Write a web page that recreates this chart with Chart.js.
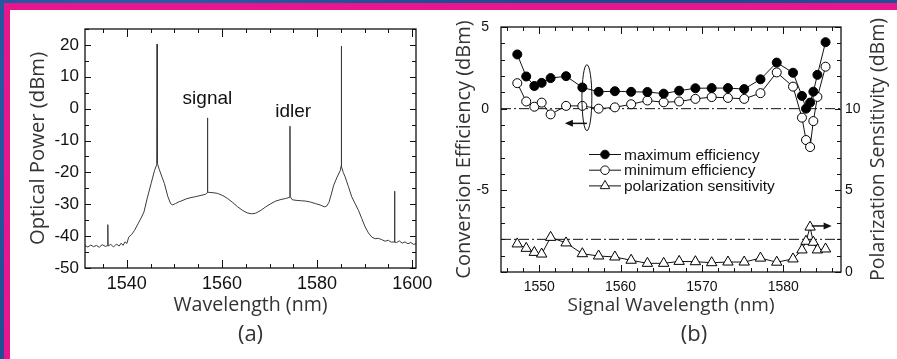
<!DOCTYPE html>
<html><head><meta charset="utf-8">
<script src="https://cdn.jsdelivr.net/npm/chart.js@4.4.1/dist/chart.umd.min.js"></script>
<style>
html,body{margin:0;padding:0;}
body{width:897px;height:359px;position:relative;overflow:hidden;
 background:radial-gradient(circle at 15% 20%,#2a60aa 0,transparent 35%),radial-gradient(circle at 70% 60%,#163f7d 0,transparent 45%),#1f4f95;}
#mag{position:absolute;left:4px;top:3px;right:0;bottom:0;background:#e6168c;}
#white{position:absolute;left:10px;top:10px;right:0;bottom:0;background:#fff;}
#ca{position:absolute;left:0;top:0;}
#cb{position:absolute;left:440px;top:0;}
</style></head>
<body>
<div id="mag"></div><div id="white"></div>
<canvas id="ca" width="440" height="359"></canvas>
<canvas id="cb" width="457" height="359"></canvas>
<script>
// ---------- Panel (a): optical spectrum ----------
const WAVELENGTH_A = [1531.2,1531.8,1532.4,1533.0,1533.6,1534.2,1534.8,1535.5,1535.95,1536.0,1536.05,1536.6,1537.2,1537.8,1538.4,1538.8,1539.2,1539.6,1540.0,1540.4,1541.0,1541.6,1542.4,1543.0,1543.6,1544.3,1545.1,1545.8,1546.3,1546.36,1546.42,1546.8,1547.4,1547.9,1548.6,1549.2,1549.6,1550.2,1551.0,1551.4,1552.5,1553.5,1554.5,1555.6,1556.5,1556.92,1556.96,1557.0,1557.5,1558.3,1559.1,1560.2,1561.2,1562.3,1563.3,1564.3,1565.3,1566.2,1567.1,1568.2,1569.2,1570.3,1571.3,1572.4,1573.4,1574.26,1574.3,1574.34,1574.8,1575.8,1576.7,1577.6,1578.6,1579.7,1580.8,1581.5,1582.0,1582.5,1583.0,1583.5,1584.2,1584.9,1585.05,1585.1,1585.15,1585.5,1585.9,1586.6,1587.3,1588.0,1588.7,1589.4,1590.1,1590.8,1591.5,1592.2,1592.9,1593.6,1594.3,1595.0,1595.6,1596.25,1596.3,1596.35,1596.7,1597.3,1597.9,1598.5,1599.1,1599.7,1600.3,1600.8];
const POWER_A = [-43.0,-43.4,-42.8,-43.3,-42.9,-43.5,-42.7,-43.2,-43.0,-36.4,-43.1,-42.6,-43.4,-42.5,-43.1,-42.2,-42.9,-41.8,-42.3,-40.3,-39.5,-38.2,-36.0,-34.3,-32.4,-28.0,-23.5,-19.5,-17.5,20.3,-17.2,-19.0,-21.5,-23.5,-27.5,-29.8,-30.2,-29.8,-29.2,-29.0,-28.3,-27.9,-27.6,-27.2,-26.9,-26.4,-2.9,-26.2,-26.3,-26.4,-26.6,-27.3,-28.2,-29.5,-30.8,-31.9,-32.7,-33.0,-32.8,-31.9,-30.8,-29.8,-29.0,-28.5,-28.2,-27.8,-5.5,-27.6,-28.6,-28.8,-28.9,-29.0,-29.3,-29.8,-30.3,-30.8,-30.6,-29.4,-26.8,-24.0,-21.5,-19.3,-18.0,19.6,-18.2,-20.0,-21.4,-24.5,-27.7,-29.8,-31.9,-34.5,-37.1,-39.0,-40.3,-40.8,-40.7,-41.1,-41.6,-41.3,-41.9,-41.8,-25.9,-41.9,-42.0,-41.5,-42.2,-41.8,-42.4,-42.0,-42.6,-42.4];
const A_X_TICKS = [1540,1560,1580,1600];
const A_Y_TICKS = [-50,-40,-30,-20,-10,0,10,20];

// ---------- Panel (b): conversion efficiency ----------
const WAVELENGTH_B = [1547.3,1548.4,1549.4,1550.3,1551.4,1553.3,1555.3,1557.3,1559.3,1561.3,1563.3,1565.3,1567.2,1569.2,1571.2,1573.2,1575.2,1577.2,1579.2,1581.2,1582.3,1582.8,1583.3,1583.7,1584.2,1585.2];
const MAX_EFF = [3.32,1.97,1.39,1.58,1.87,1.99,1.3,1.03,1.07,1.03,1.02,0.92,1.1,1.25,1.26,1.26,1.2,1.8,2.82,2.2,0.78,0.0,0.37,1.04,2.07,4.07];
const MIN_EFF = [1.56,0.44,0.12,0.37,-0.35,0.17,0.17,0.0,0.08,0.27,0.5,0.39,0.44,0.6,0.71,0.66,0.6,0.95,2.22,1.35,-0.55,-1.92,-2.35,-0.76,0.72,2.57];
const POL_SENS = [1.72,1.45,1.2,1.1,2.12,1.78,1.12,0.98,0.92,0.72,0.53,0.53,0.65,0.63,0.57,0.61,0.61,0.85,0.6,0.8,1.35,1.88,2.75,1.82,1.35,1.41];
const B_X_TICKS = [1550,1560,1570,1580];
const B_Y_TICKS = [-5,0,5];
const B_Y2_TICKS = [0,5,10];
const EFF_REF = 0;   // dash-dot reference on left axis
const POL_REF = 2;   // dash-dot reference on right axis

Chart.defaults.font.family = "'Liberation Sans', Arial, sans-serif";
Chart.defaults.color = '#111';
const TITLE_FONT = "'Open Sans', 'DejaVu Sans', sans-serif";

function frameTicks(id, axes){
  return {id, afterDatasetsDraw(chart){
    const {ctx, chartArea:a} = chart;
    ctx.save();
    ctx.strokeStyle = '#111';
    ctx.lineWidth = 1.3;
    ctx.strokeRect(a.left, a.top, a.right - a.left, a.bottom - a.top);
    ctx.lineWidth = 1;
    axes.forEach(ax => {
      const s = chart.scales[ax.id];
      const n0 = Math.ceil(s.min / ax.minor - 1e-6), n1 = Math.floor(s.max / ax.minor + 1e-6);
      ctx.beginPath();
      for (let n = n0; n <= n1; n++) {
        const v = n * ax.minor;
        const r = v / ax.major;
        const len = Math.abs(r - Math.round(r)) < 1e-6 ? ax.majorLen : ax.minorLen;
        const p = Math.round(s.getPixelForValue(v)) + 0.5;
        ax.sides.forEach(side => {
          if (side === 'bottom') { ctx.moveTo(p, a.bottom); ctx.lineTo(p, a.bottom - len); }
          if (side === 'top') { ctx.moveTo(p, a.top); ctx.lineTo(p, a.top + len); }
          if (side === 'left') { ctx.moveTo(a.left, p); ctx.lineTo(a.left + len, p); }
          if (side === 'right') { ctx.moveTo(a.right, p); ctx.lineTo(a.right - len, p); }
        });
      }
      ctx.stroke();
    });
    ctx.restore();
  }};
}

const fmt = v => String(v);

// ----- chart (a) -----
const labelsA = {id:'labelsA', afterDraw(chart){
  const {ctx, scales:{x, y}, chartArea:a} = chart;
  ctx.save();
  ctx.fillStyle = '#111';
  ctx.font = "19px 'Liberation Sans', Arial, sans-serif";
  ctx.textAlign = 'center'; ctx.textBaseline = 'alphabetic';
  ctx.fillText('signal', x.getPixelForValue(1556.94), y.getPixelForValue(1.45));
  ctx.fillText('idler', x.getPixelForValue(1574.97), y.getPixelForValue(-2.7));
  ctx.fillStyle = '#333';
  ctx.font = "22px " + TITLE_FONT;
  ctx.textBaseline = 'middle';
  ctx.fillText('(a)', (a.left + a.right) / 2, 335);
  ctx.restore();
}};

new Chart(document.getElementById('ca'), {
  type: 'line',
  data: {datasets: [{
    label: 'Optical spectrum',
    data: WAVELENGTH_A.map((x, i) => ({x, y: POWER_A[i]})),
    borderColor: '#3a3a3a', borderWidth: 1, pointRadius: 0, tension: 0
  }]},
  options: {
    responsive: false, animation: false, events: [],
    layout: {padding: {left: 0, top: 29, right: 24, bottom: 0}},
    plugins: {legend: {display: false}, tooltip: {enabled: false}},
    scales: {
      x: {type: 'linear', min: 1531.2, max: 1600.8,
        afterFit: s => { s.height = 91; },
        afterBuildTicks: s => { s.ticks = A_X_TICKS.map(v => ({value: v})); },
        grid: {display: false, drawTicks: false}, border: {display: false},
        ticks: {padding: 5, font: {size: 18}, color: '#111', maxRotation: 0, autoSkip: false, callback: fmt},
        title: {display: true, text: 'Wavelength (nm)', color: '#333', font: {family: TITLE_FONT, size: 19.6}, padding: {top: 0, bottom: 42}}
      },
      y: {type: 'linear', min: -50, max: 25,
        afterFit: s => { s.width = 85; },
        afterBuildTicks: s => { s.ticks = A_Y_TICKS.map(v => ({value: v})); },
        grid: {display: false, drawTicks: false}, border: {display: false},
        ticks: {padding: 6, font: {size: 17}, color: '#111', callback: fmt},
        title: {display: true, text: 'Optical Power (dBm)', color: '#333', font: {family: TITLE_FONT, size: 20.3}, padding: {top: 26, bottom: 0}}
      }
    }
  },
  plugins: [frameTicks('frameA', [
    {id: 'x', minor: 5, major: 20, minorLen: 4, majorLen: 8, sides: ['bottom', 'top']},
    {id: 'y', minor: 5, major: 10, minorLen: 4, majorLen: 6, sides: ['left', 'right']}
  ]), labelsA]
});

// ----- chart (b) -----
const B_X_MIN = 1545.3, B_X_MAX = 1587.1;

const extrasB = {id:'extrasB', afterDraw(chart){
  const {ctx, scales:{x, y, y2}, chartArea:a} = chart;
  ctx.save();
  ctx.strokeStyle = '#111'; ctx.fillStyle = '#111'; ctx.lineWidth = 1;
  // ellipse marking the left-axis curves
  const cx = x.getPixelForValue(1555.86), cy = y.getPixelForValue(0.67);
  const rx = x.getPixelForValue(1556.47) - cx, ry = cy - y.getPixelForValue(2.69);
  ctx.beginPath(); ctx.ellipse(cx, cy, rx, ry, 0, 0, Math.PI * 2); ctx.stroke();
  function arrow(x0, x1, yy){
    ctx.beginPath(); ctx.moveTo(x0, yy); ctx.lineTo(x1, yy); ctx.lineWidth = 1.5; ctx.stroke();
    const d = Math.sign(x1 - x0);
    ctx.beginPath(); ctx.moveTo(x1 + d * 2, yy); ctx.lineTo(x1 - d * 6, yy - 3.5); ctx.lineTo(x1 - d * 6, yy + 3.5); ctx.closePath(); ctx.fill();
  }
  arrow(x.getPixelForValue(1555.86), x.getPixelForValue(1553.4), y.getPixelForValue(-0.9));
  arrow(x.getPixelForValue(1583.5), x.getPixelForValue(1585.7), y2.getPixelForValue(2.82));
  // legend
  const rows = [
    {t: 'maximum efficiency', s: 'circle', fill: '#000'},
    {t: 'minimum efficiency', s: 'circle', fill: '#fff'},
    {t: 'polarization sensitivity', s: 'triangle', fill: '#fff'}
  ];
  const lx0 = 149, lx1 = 181, mx = 165, tx = 184;
  ctx.font = "15.5px 'Liberation Sans', Arial, sans-serif";
  ctx.textAlign = 'left'; ctx.textBaseline = 'alphabetic';
  rows.forEach((r, i) => {
    const yy = 154.5 + i * 15.7;
    ctx.lineWidth = 1; ctx.strokeStyle = '#111';
    ctx.beginPath(); ctx.moveTo(lx0, yy); ctx.lineTo(lx1, yy); ctx.stroke();
    ctx.beginPath();
    if (r.s === 'circle') { ctx.arc(mx, yy, 4.3, 0, Math.PI * 2); }
    else { const R = 5.5; ctx.moveTo(mx, yy - R); ctx.lineTo(mx + 0.866 * R, yy + 0.5 * R); ctx.lineTo(mx - 0.866 * R, yy + 0.5 * R); ctx.closePath(); }
    ctx.fillStyle = r.fill; ctx.fill(); ctx.stroke();
    ctx.fillStyle = '#111';
    ctx.fillText(r.t, tx, yy + 5);
  });
  // right axis title (reads bottom to top)
  ctx.save();
  ctx.translate(438, (a.top + a.bottom) / 2);
  ctx.rotate(-Math.PI / 2);
  ctx.font = "19.5px " + TITLE_FONT;
  ctx.fillStyle = '#333'; ctx.textAlign = 'center'; ctx.textBaseline = 'middle';
  ctx.fillText('Polarization Sensitivity (dBm)', 0, 0);
  ctx.restore();
  // panel label
  ctx.font = "22px " + TITLE_FONT;
  ctx.fillStyle = '#333'; ctx.textAlign = 'center'; ctx.textBaseline = 'middle';
  ctx.fillText('(b)', 254, 335);
  ctx.restore();
}};

const pts = arr => WAVELENGTH_B.map((x, i) => ({x, y: arr[i]}));
new Chart(document.getElementById('cb'), {
  type: 'line',
  data: {datasets: [
    {label: 'maximum efficiency', data: pts(MAX_EFF), yAxisID: 'y', borderColor: '#111', borderWidth: 1,
      pointStyle: 'circle', pointRadius: 4.5, pointBackgroundColor: '#000', pointBorderColor: '#000', pointBorderWidth: 1, tension: 0},
    {label: 'minimum efficiency', data: pts(MIN_EFF), yAxisID: 'y', borderColor: '#111', borderWidth: 1,
      pointStyle: 'circle', pointRadius: 4.5, pointBackgroundColor: '#fff', pointBorderColor: '#000', pointBorderWidth: 1, tension: 0},
    {label: 'polarization sensitivity', data: pts(POL_SENS), yAxisID: 'y2', borderColor: '#111', borderWidth: 1,
      pointStyle: 'triangle', pointRadius: 6, pointBackgroundColor: '#fff', pointBorderColor: '#000', pointBorderWidth: 1, tension: 0},
    {label: 'efficiency reference', data: [{x: B_X_MIN, y: EFF_REF}, {x: B_X_MAX, y: EFF_REF}], yAxisID: 'y',
      borderColor: '#111', borderWidth: 1, borderDash: [10, 3, 2, 3], pointRadius: 0},
    {label: 'sensitivity reference', data: [{x: B_X_MIN, y: POL_REF}, {x: B_X_MAX, y: POL_REF}], yAxisID: 'y2',
      borderColor: '#111', borderWidth: 1, borderDash: [10, 3, 2, 3], pointRadius: 0}
  ]},
  options: {
    responsive: false, animation: false, events: [],
    layout: {padding: {left: 0, top: 27, right: 0, bottom: 0}},
    plugins: {legend: {display: false}, tooltip: {enabled: false}},
    scales: {
      x: {type: 'linear', min: B_X_MIN, max: B_X_MAX,
        afterFit: s => { s.height = 87; },
        afterBuildTicks: s => { s.ticks = B_X_TICKS.map(v => ({value: v})); },
        grid: {display: false, drawTicks: false}, border: {display: false},
        ticks: {padding: 7, font: {size: 14}, color: '#111', maxRotation: 0, autoSkip: false, callback: fmt},
        title: {display: true, text: 'Signal Wavelength (nm)', color: '#333', font: {family: TITLE_FONT, size: 19}, padding: {top: 0, bottom: 42}}
      },
      y: {type: 'linear', position: 'left', min: -10, max: 5,
        afterFit: s => { s.width = 61; },
        afterBuildTicks: s => { s.ticks = B_Y_TICKS.map(v => ({value: v})); },
        grid: {display: false, drawTicks: false}, border: {display: false},
        ticks: {padding: 12, font: {size: 14}, color: '#111', callback: fmt},
        title: {display: true, text: 'Conversion Efficiency (dBm)', color: '#333', font: {family: TITLE_FONT, size: 20}, padding: {top: 12, bottom: 0}}
      },
      y2: {type: 'linear', position: 'right', min: 0, max: 15,
        afterFit: s => { s.width = 56; },
        afterBuildTicks: s => { s.ticks = B_Y2_TICKS.map(v => ({value: v})); },
        grid: {display: false, drawTicks: false}, border: {display: false},
        ticks: {padding: 4, font: {size: 14}, color: '#111', callback: fmt}
      }
    }
  },
  plugins: [frameTicks('frameB', [
    {id: 'x', minor: 2, major: 10, minorLen: 4, majorLen: 7, sides: ['bottom', 'top']},
    {id: 'y', minor: 1, major: 5, minorLen: 4, majorLen: 6, sides: ['left']},
    {id: 'y2', minor: 1, major: 5, minorLen: 4, majorLen: 6, sides: ['right']}
  ]), extrasB]
});
</script>
</body></html>
